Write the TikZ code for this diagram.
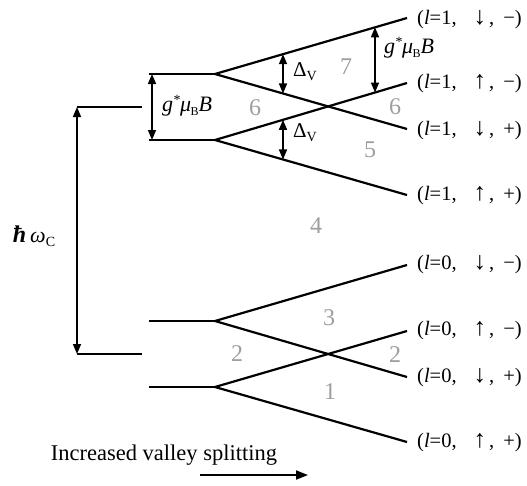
\documentclass[tikz,border=0pt]{standalone}
\usepackage{fontspec}
\setmainfont{Liberation Serif}
\usetikzlibrary{arrows.meta,calc}
\newcommand{\stlab}[3]{(\textit{l}=#1,\hspace{17pt}{\fontsize{25}{25}\selectfont #2}\hspace{3pt},\hspace{9pt}#3)}
\newcommand{\gmub}{\textit{g}\kern0.5pt\raisebox{0.3em}{\fontsize{14}{14}\selectfont *}\kern-0.5pt\textit{μ}\kern-0.5pt\raisebox{-0.2em}{\fontsize{12}{12}\selectfont B}\textit{B}}
\begin{document}
\begin{tikzpicture}[x=1pt,y=-1pt,
  level/.style={line width=2.2pt},
  dimarrow/.style={line width=1.5pt,{Triangle[length=10pt,width=8pt]}-{Triangle[length=10pt,width=8pt]}},
  num/.style={text=black!38,font={\fontsize{24}{24}\selectfont},inner sep=0pt},
  state/.style={anchor=west,inner sep=0pt,font={\fontsize{20.5}{20.5}\selectfont}},
  lab/.style={inner sep=0pt,font={\fontsize{22}{22}\selectfont}},
]
\useasboundingbox (0,0) rectangle (527,485);

% anchor coordinates
\coordinate (u1L) at (149,74);  \coordinate (u1R) at (215,74);
\coordinate (u2L) at (149,140); \coordinate (u2R) at (215,140);
\coordinate (d1L) at (149,321); \coordinate (d1R) at (215,321);
\coordinate (d2L) at (149,387); \coordinate (d2R) at (215,387);
\coordinate (mT) at (77,107);   \coordinate (mTR) at (142,107);
\coordinate (mB) at (77,354);   \coordinate (mBR) at (142,354);
\coordinate (e1) at (407,18);  \coordinate (e2) at (407,83);
\coordinate (e3) at (407,129); \coordinate (e4) at (407,195);
\coordinate (e5) at (407,265); \coordinate (e6) at (407,331);
\coordinate (e7) at (407,377); \coordinate (e8) at (407,442);

% levels
\draw[level] (mT) -- (mTR);
\draw[level] (mB) -- (mBR);
\draw[level] (u1L) -- (u1R);
\draw[level] (u2L) -- (u2R);
\draw[level] (d1L) -- (d1R);
\draw[level] (d2L) -- (d2R);
\draw[level] (e1) -- (u1R) -- (e3);
\draw[level] (e2) -- (u2R) -- (e4);
\draw[level] (e5) -- (d1R) -- (e7);
\draw[level] (e6) -- (d2R) -- (e8);

% state labels
\node[state] (s1) at (417,20)  {\stlab{1}{↓}{−}};
\node[state] (s2) at (417,84)  {\stlab{1}{↑}{−}};
\node[state] (s3) at (417,131) {\stlab{1}{↓}{+}};
\node[state] (s4) at (417,196) {\stlab{1}{↑}{+}};
\node[state] (s5) at (417,265) {\stlab{0}{↓}{−}};
\node[state] (s6) at (417,331) {\stlab{0}{↑}{−}};
\node[state] (s7) at (417,378) {\stlab{0}{↓}{+}};
\node[state] (s8) at (417,443) {\stlab{0}{↑}{+}};

% dimension arrows
\draw[dimarrow] (mT) -- (mB);
\draw[dimarrow] (152,74) -- (152,140);
\draw[dimarrow] ($(u1R)!68/192!(e1)$) -- ($(u1R)!68/192!(e3)$);
\draw[dimarrow] ($(u2R)!68/192!(e2)$) -- ($(u2R)!68/192!(e4)$);
\draw[dimarrow] ($(u1R)!160/192!(e1)$) -- ($(u2R)!160/192!(e2)$);

% dimension labels
\node[lab] (hw) at (34,236) {\fontsize{24}{24}\selectfont\textbf{\textit{ħ}}\,\fontsize{22}{22}\selectfont\textit{ω}\raisebox{-0.2em}{\fontsize{14}{14}\selectfont C}};
\node[lab] (gl) at (187,106) {\gmub};
\node[lab] (gr) at (409,48) {\gmub};
\node[lab,font={\fontsize{21}{21}\selectfont}] (dv1) at (305,72) {Δ\raisebox{-0.2em}{\fontsize{14}{14}\selectfont V}};
\node[lab,font={\fontsize{21}{21}\selectfont}] (dv2) at (305,133) {Δ\raisebox{-0.2em}{\fontsize{14}{14}\selectfont V}};

% region numbers
\node[num] (n7) at (346,67) {7};
\node[num] (n6a) at (255,108) {6};
\node[num] (n6b) at (395,107) {6};
\node[num] (n5) at (370,150) {5};
\node[num] (n4) at (316,226) {4};
\node[num] (n3) at (329,318) {3};
\node[num] (n2a) at (237,354) {2};
\node[num] (n2b) at (395,355) {2};
\node[num] (n1) at (330,392) {1};

% bottom caption and arrow
\node[inner sep=0pt,font={\fontsize{22.5}{22.5}\selectfont}] (cap) at (164,455) {Increased valley splitting};
\coordinate (aS) at (200,475);
\coordinate (aE) at (308,475);
\draw[line width=1.8pt,-{Triangle[length=12pt,width=9pt]}] (aS) -- (aE);
\end{tikzpicture}
\end{document}
